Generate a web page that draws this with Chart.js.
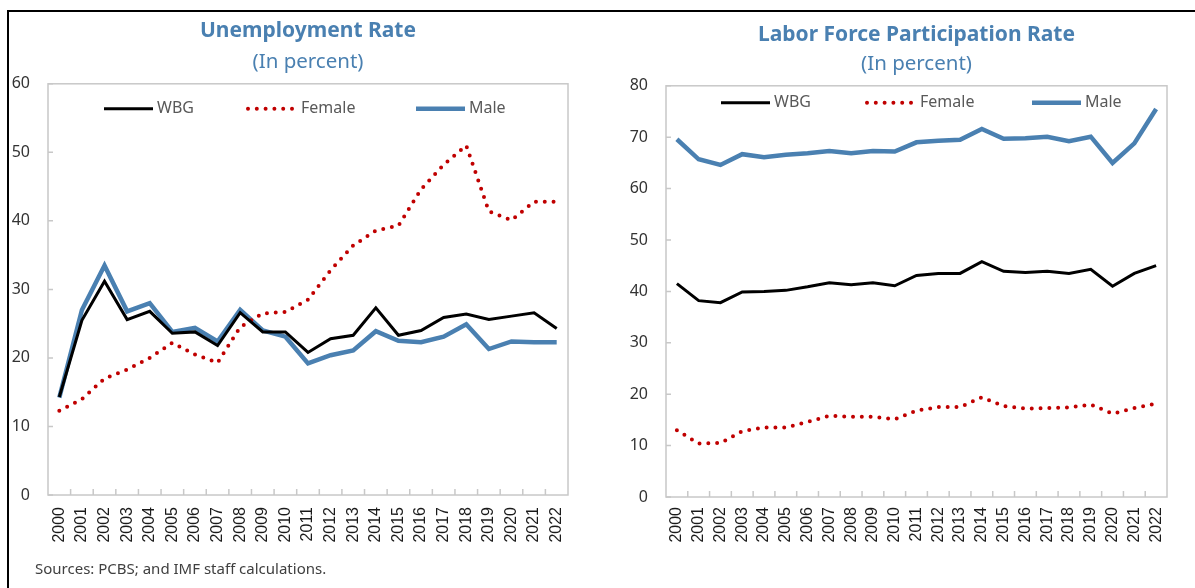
<!DOCTYPE html>
<html>
<head>
<meta charset="utf-8">
<script src="https://cdn.jsdelivr.net/npm/chart.js@4.4.1/dist/chart.umd.min.js"></script>
<style>
  body { margin: 0; background: #fff; width: 1195px; height: 588px; overflow: hidden; position: relative; font-family: "Noto Sans", sans-serif; }
  #frame { position: absolute; left: 7px; top: 10px; width: 1200px; height: 600px; border-left: 2px solid #000; border-top: 2px solid #000; }
  #left { position: absolute; left: 0; top: 0; }
  #right { position: absolute; left: 598px; top: 0; }
  #source { position: absolute; left: 35px; top: 558px; font-size: 15px; color: #404040; }
</style>
</head>
<body>
<div id="frame"></div>
<canvas id="left" width="598" height="560"></canvas>
<canvas id="right" width="597" height="560"></canvas>
<div id="source">Sources: PCBS; and IMF staff calculations.</div>
<script>
var years = ['2000', '2001', '2002', '2003', '2004', '2005', '2006', '2007', '2008', '2009', '2010', '2011',
             '2012', '2013', '2014', '2015', '2016', '2017', '2018', '2019', '2020', '2021', '2022'];
var seriesNames = ['WBG', 'Female', 'Male'];

// Unemployment rate, percent
var unempWBG    = [14.3, 25.5, 31.2, 25.6, 26.8, 23.6, 23.8, 21.8, 26.6, 23.8, 23.8, 20.8, 22.8, 23.3, 27.3, 23.3, 24.0, 25.9, 26.4, 25.6, 26.1, 26.6, 24.3];
var unempFemale = [12.3, 14.0, 17.0, 18.3, 20.0, 22.2, 20.5, 19.3, 24.5, 26.5, 26.7, 28.5, 32.8, 36.4, 38.6, 39.3, 44.6, 48.2, 51.0, 41.4, 40.1, 42.8, 42.8];
var unempMale   = [14.2, 27.0, 33.5, 26.8, 28.0, 23.8, 24.4, 22.4, 27.0, 24.0, 23.1, 19.2, 20.4, 21.1, 23.9, 22.5, 22.3, 23.1, 24.9, 21.3, 22.4, 22.3, 22.3];
var unempTicks  = [0, 10, 20, 30, 40, 50, 60];

// Labor force participation rate, percent
var lfprWBG    = [41.5, 38.2, 37.8, 39.9, 40.0, 40.2, 40.9, 41.7, 41.3, 41.7, 41.1, 43.1, 43.5, 43.5, 45.8, 43.9, 43.7, 43.9, 43.5, 44.3, 41.0, 43.5, 45.0];
var lfprFemale = [13.0, 10.4, 10.5, 12.8, 13.5, 13.5, 14.6, 15.8, 15.6, 15.6, 15.1, 16.8, 17.5, 17.5, 19.4, 17.7, 17.2, 17.3, 17.4, 18.0, 16.2, 17.3, 18.2];
var lfprMale   = [69.6, 65.7, 64.6, 66.7, 66.1, 66.6, 66.9, 67.3, 66.9, 67.3, 67.2, 69.0, 69.3, 69.5, 71.6, 69.7, 69.8, 70.1, 69.2, 70.1, 65.0, 68.8, 75.5];
var lfprTicks  = [0, 10, 20, 30, 40, 50, 60, 70, 80];

var blue = '#4a80b1';
var red = '#c00000';

Chart.defaults.font.family = '"Noto Sans", sans-serif';

// light box round the plot, small inward ticks
var frameBits = {
  id: 'frameBits',
  beforeDatasetsDraw: function(chart) {
    var a = chart.chartArea, ctx = chart.ctx;
    var x = chart.scales.x, y = chart.scales.y;
    ctx.save();
    ctx.strokeStyle = '#c8c8c8';
    ctx.lineWidth = 1.5;
    ctx.strokeRect(a.left, a.top, a.right - a.left, a.bottom - a.top);
    ctx.beginPath();
    y.ticks.forEach(function(t) {
      var py = y.getPixelForValue(t.value);
      ctx.moveTo(a.left, py);
      ctx.lineTo(a.left + 5, py);
    });
    for (var i = 1; i < x.ticks.length; i++) {
      var px = (x.getPixelForValue(i - 1) + x.getPixelForValue(i)) / 2;
      ctx.moveTo(px, a.bottom);
      ctx.lineTo(px, a.bottom - 6);
    }
    ctx.stroke();
    ctx.restore();
  }
};

// legend drawn inside the plot box
var insideLegend = {
  id: 'insideLegend',
  afterDatasetsDraw: function(chart, args, opts) {
    var a = chart.chartArea, ctx = chart.ctx;
    ctx.save();
    ctx.font = '16px "Noto Sans"';
    ctx.textBaseline = 'middle';
    chart.data.datasets.forEach(function(ds, i) {
      var x0 = a.left + opts.starts[i], y0 = a.top + opts.y;
      ctx.beginPath();
      ctx.strokeStyle = ds.borderColor;
      ctx.lineWidth = ds.borderWidth;
      ctx.setLineDash(ds.borderDash || []);
      ctx.lineCap = ds.borderCapStyle || 'butt';
      ctx.moveTo(x0, y0);
      ctx.lineTo(x0 + opts.lineLen, y0);
      ctx.stroke();
      ctx.setLineDash([]);
      ctx.fillStyle = '#595959';
      ctx.fillText(ds.label, x0 + opts.lineLen + 4, y0);
    });
    ctx.restore();
  }
};

function makeChart(id, title, wbg, female, male, yTicks, lay) {
  var ctx = document.getElementById(id);
  return new Chart(ctx, {
    type: 'line',
    data: {
      labels: years,
      datasets: [
        { label: seriesNames[0], data: wbg, borderColor: '#000', borderWidth: 3, pointRadius: 0, tension: 0, fill: false },
        { label: seriesNames[1], data: female, borderColor: red, borderWidth: 4, borderDash: [0, 8.8], borderCapStyle: 'round', pointRadius: 0, tension: 0, fill: false },
        { label: seriesNames[2], data: male, borderColor: blue, borderWidth: 4.5, pointRadius: 0, tension: 0, fill: false }
      ]
    },
    options: {
      responsive: false,
      animation: false,
      events: [],
      layout: { padding: { left: 0, right: lay.padRight, top: 0, bottom: lay.padBottom } },
      scales: {
        x: {
          offset: true,
          grid: { display: false, drawTicks: false },
          border: { display: false },
          ticks: { autoSkip: false, minRotation: 90, maxRotation: 90, padding: lay.xPad, color: '#1a1a1a',
                   font: { family: '"Liberation Sans", Arial, sans-serif', size: 16 } },
          afterFit: function(scale) { scale.height = 60; }
        },
        y: {
          min: yTicks[0],
          max: yTicks[yTicks.length - 1],
          grid: { display: false, drawTicks: false },
          border: { display: false },
          ticks: { stepSize: yTicks[1] - yTicks[0], padding: 18, color: '#333', font: { size: 16 } },
          afterFit: function(scale) { scale.width = lay.yWidth; }
        }
      },
      plugins: {
        legend: { display: false },
        tooltip: { enabled: false },
        title: {
          display: true, text: title, color: blue, fullSize: false,
          font: { size: 21, weight: 'bold' },
          padding: { top: lay.titleTop, bottom: 0 }
        },
        subtitle: {
          display: true, text: '(In percent)', color: blue, fullSize: false,
          font: { size: 20.5, weight: 'normal' },
          padding: { top: lay.subTop, bottom: 9 }
        },
        insideLegend: lay.legend
      }
    },
    plugins: [frameBits, insideLegend]
  });
}

makeChart('left', 'Unemployment Rate', unempWBG, unempFemale, unempMale, unempTicks,
  { padRight: 30, padBottom: 5, xPad: 12, yWidth: 48, titleTop: 18, subTop: 7,
    legend: { y: 25, starts: [56, 200, 368], lineLen: 49 } });

makeChart('right', 'Labor Force Participation Rate', lfprWBG, lfprFemale, lfprMale, lfprTicks,
  { padRight: 28, padBottom: 3, xPad: 10, yWidth: 68, titleTop: 22, subTop: 5,
    legend: { y: 17, starts: [55, 201, 366], lineLen: 49 } });
</script>
</body>
</html>
